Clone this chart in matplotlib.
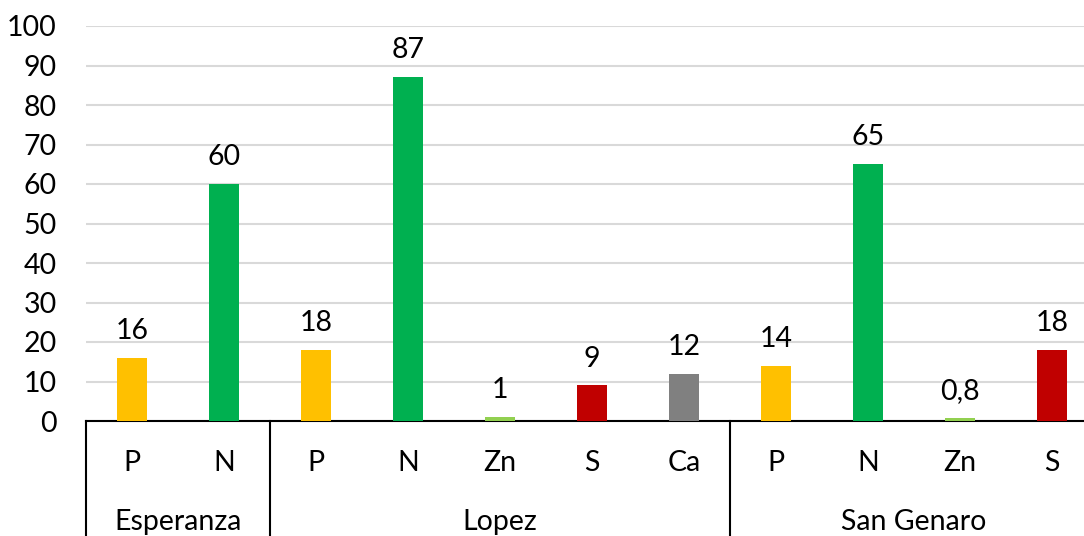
import matplotlib
matplotlib.use("Agg")
import matplotlib.pyplot as plt

# Nutrient values by site
sites = ["Esperanza", "Lopez", "San Genaro"]
nutrients = [["P", "N"], ["P", "N", "Zn", "S", "Ca"], ["P", "N", "Zn", "S"]]
values = [[16, 60], [18, 87, 1, 9, 12], [14, 65, 0.8, 18]]
value_labels = [["16", "60"], ["18", "87", "1", "9", "12"], ["14", "65", "0,8", "18"]]

colors = {"P": "#FFC000", "N": "#00B050", "Zn": "#92D050", "S": "#C00000", "Ca": "#808080"}

plt.rcParams["font.family"] = ["Lato", "DejaVu Sans"]
FS = 20.5

W, H, DPI = 1084, 536, 100
fig = plt.figure(figsize=(W / DPI, H / DPI), dpi=DPI)
ax_left, ax_right, ax_bottom, ax_top = 86, 1098, 421, 26
ax = fig.add_axes([ax_left / W, (H - ax_bottom) / H,
                   (ax_right - ax_left) / W, (ax_bottom - ax_top) / H])

x = 0
positions, heights, cols, texts = [], [], [], []
group_bounds = []
for site, nuts, vals, labs in zip(sites, nutrients, values, value_labels):
    start = x
    for n, v, l in zip(nuts, vals, labs):
        positions.append(x)
        heights.append(v)
        cols.append(colors[n])
        texts.append(l)
        x += 1
    group_bounds.append((start - 0.5, x - 0.5))

ax.bar(positions, heights, width=0.32, color=cols, zorder=3)
for p, h, t in zip(positions, heights, texts):
    ax.annotate(t, (p, h), xytext=(0, 10), textcoords="offset points",
                ha="center", va="bottom", fontsize=FS, color="black")

ax.set_xlim(-0.5, len(positions) - 0.5)
ax.set_ylim(0, 100)
ax.set_yticks(range(0, 101, 10))
ax.tick_params(axis="y", length=0, pad=21, labelsize=FS)
ax.set_xticks([])
ax.yaxis.grid(True, color="#D9D9D9", linewidth=1.5, zorder=0)
ax.set_axisbelow(True)
for s in ["top", "right", "left"]:
    ax.spines[s].set_visible(False)
ax.spines["bottom"].set_color("black")
ax.spines["bottom"].set_linewidth(1.5)

trans = ax.get_xaxis_transform()
axh = ax_bottom - ax_top
y_cat = (ax_bottom - 463) / axh
y_grp = (ax_bottom - 522) / axh
y_end = (ax_bottom - H) / axh

idx = 0
for site, nuts, (lo, hi) in zip(sites, nutrients, group_bounds):
    for n in nuts:
        ax.text(positions[idx], y_cat, n, transform=trans, ha="center",
                va="center", fontsize=FS, clip_on=False)
        idx += 1
    ax.text((lo + hi) / 2, y_grp, site, transform=trans, ha="center",
            va="center", fontsize=FS, clip_on=False)
    ax.plot([lo, lo], [0, y_end], transform=trans, color="black",
            linewidth=1.5, clip_on=False)

fig.savefig("out.png", dpi=DPI)
